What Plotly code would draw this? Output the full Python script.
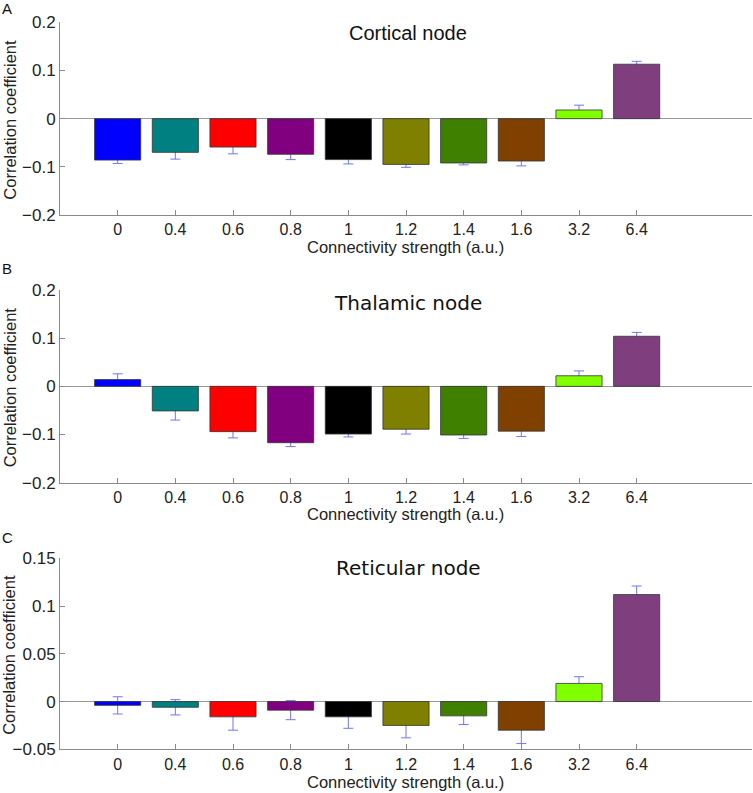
import plotly.graph_objects as go

categories = ["0", "0.4", "0.6", "0.8", "1", "1.2", "1.4", "1.6", "3.2", "6.4"]
bar_colors = ["#0000FF", "#008080", "#FF0000", "#800080", "#000000",
              "#808000", "#408000", "#804000", "#80FF00", "#7F3F7F"]

cortical = [-0.086, -0.070, -0.059, -0.074, -0.085, -0.095, -0.092, -0.088, 0.018, 0.113]
cortical_err = [0.007, 0.014, 0.014, 0.011, 0.009, 0.006, 0.004, 0.010, 0.010, 0.006]
thalamic = [0.014, -0.051, -0.094, -0.117, -0.099, -0.089, -0.101, -0.093, 0.022, 0.104]
thalamic_err = [0.012, 0.019, 0.013, 0.008, 0.006, 0.010, 0.007, 0.011, 0.010, 0.008]
reticular = [-0.004, -0.006, -0.016, -0.009, -0.016, -0.025, -0.015, -0.030, 0.019, 0.112]
reticular_err = [0.009, 0.008, 0.014, 0.010, 0.012, 0.013, 0.009, 0.014, 0.007, 0.009]

panels = [
    ("Cortical node", cortical, cortical_err, [-0.2, 0.2], 0.1, "A", "Liberation Sans, Arial, sans-serif"),
    ("Thalamic node", thalamic, thalamic_err, [-0.2, 0.2], 0.1, "B", "DejaVu Sans, sans-serif"),
    ("Reticular node", reticular, reticular_err, [-0.05, 0.15], 0.05, "C", "DejaVu Sans, sans-serif"),
]

W, H = 753, 793
ML, MR, MT, MB = 60, 1, 0, 0
PW = W - ML - MR
PH = H - MT - MB

def py(px):
    return 1 - (px - MT) / PH

def pxx(px):
    return (px - ML) / PW

# pixel extents of each panel (top, bottom)
extents = [(22.3, 215.0), (290.0, 482.7), (558.3, 749.3)]
title_y = [33, 303, 568]
letter_y = [9, 268, 537]
xtitle_y = [247, 514, 782]
ytitle_x = [10, 10, 9]

fig = go.Figure()
axis_grey = "#8a8a8a"
font_main = "Liberation Sans, Arial, sans-serif"
annotations = []

for i, (name, vals, errs, yr, dt, letter, tfont) in enumerate(panels):
    suffix = "" if i == 0 else str(i + 1)
    xa, ya = "x" + suffix, "y" + suffix
    # error bars (drawn first so the opaque bars cover their inner part)
    fig.add_trace(go.Bar(
        x=categories, y=vals, xaxis=xa, yaxis=ya,
        marker=dict(color="rgba(0,0,0,0)", line=dict(width=0)),
        error_y=dict(type="data", array=errs, visible=True,
                     color="#7373ff", thickness=1, width=5),
        showlegend=False, hoverinfo="skip",
    ))
    fig.add_trace(go.Bar(
        x=categories, y=vals, xaxis=xa, yaxis=ya,
        marker=dict(color=bar_colors, line=dict(color="#333333", width=0.8)),
        showlegend=False, name=name,
    ))
    top, bot = extents[i]
    fig.layout["xaxis" + suffix] = dict(
        domain=[0, 1], anchor=ya, type="category", range=[-1, 11],
        automargin=False,
        showline=True, linecolor=axis_grey, linewidth=1,
        ticks="inside", ticklen=5, tickcolor=axis_grey,
        tickfont=dict(family=font_main, size=16, color="#222"),
        showgrid=False, zeroline=False,
    )
    fig.layout["yaxis" + suffix] = dict(
        domain=[py(bot), py(top)], anchor=xa, range=yr, dtick=dt, tick0=0,
        automargin=False,
        showline=True, linecolor=axis_grey, linewidth=1,
        ticks="inside", ticklen=5, tickcolor=axis_grey,
        tickfont=dict(family=font_main, size=17, color="#222"),
        showgrid=False, zeroline=True, zerolinecolor="#999999", zerolinewidth=1,
    )
    annotations.append(dict(
        text=name, xref="paper", yref="paper", x=pxx(408), y=py(title_y[i]),
        xanchor="center", yanchor="middle", showarrow=False,
        font=dict(family=tfont, size=20, color="#111"),
    ))
    annotations.append(dict(
        text="Connectivity strength (a.u.)", xref="paper", yref="paper",
        x=pxx(405), y=py(xtitle_y[i]),
        xanchor="center", yanchor="middle", showarrow=False,
        font=dict(family=font_main, size=16.5, color="#222"),
    ))
    annotations.append(dict(
        text="Correlation coefficient", xref="paper", yref="paper",
        x=pxx(ytitle_x[i]), y=py((top + bot) / 2 + 1),
        xanchor="center", yanchor="middle", showarrow=False, textangle=-90,
        font=dict(family=font_main, size=16.5, color="#222"),
    ))
    annotations.append(dict(
        text=letter, xref="paper", yref="paper", x=pxx(0), y=py(letter_y[i]),
        xanchor="left", yanchor="middle", showarrow=False,
        font=dict(family=font_main, size=15, color="#111"),
    ))

fig.update_layout(
    width=W, height=H,
    margin=dict(l=ML, r=MR, t=MT, b=MB, autoexpand=False),
    barmode="overlay", bargap=0.2,
    plot_bgcolor="white", paper_bgcolor="white",
    annotations=annotations,
)

fig.write_html("out.html")
